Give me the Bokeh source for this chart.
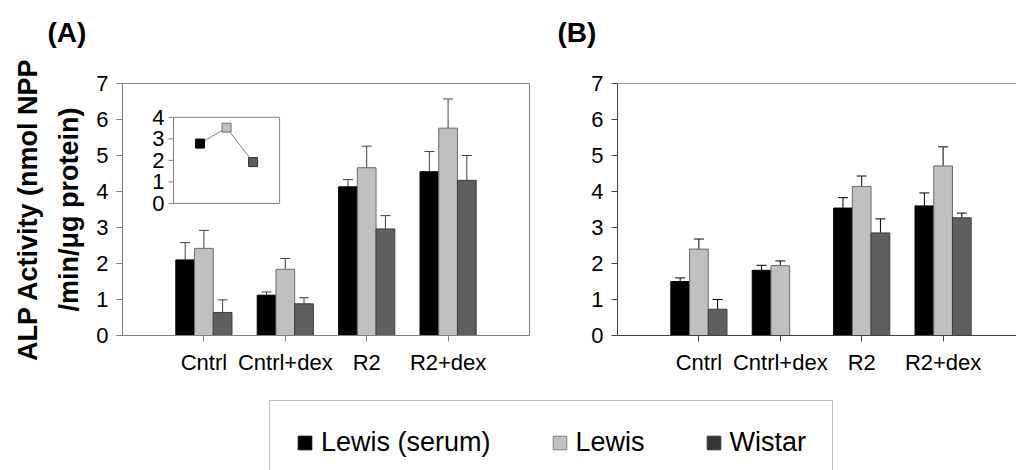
import numpy as np
from bokeh.plotting import figure
from bokeh.models import (Range1d, FixedTicker, Whisker, TeeHead, ColumnDataSource,
                          Title, Legend, LegendItem, Span)
from bokeh.transform import dodge
from bokeh.layouts import column, row
from bokeh.embed import file_html
from bokeh.resources import INLINE
from bokeh.core.properties import value

# ---------------- data ----------------
categories = ["Cntrl", "Cntrl+dex", "R2", "R2+dex"]
series = ["Lewis (serum)", "Lewis", "Wistar"]
panel_letters = ["(A)", "(B)"]

a_lewis_serum = [2.10, 1.12, 4.13, 4.55]
a_lewis = [2.42, 1.84, 4.66, 5.76]
a_wistar = [0.64, 0.88, 2.96, 4.31]
a_lewis_serum_err = [0.48, 0.09, 0.20, 0.56]
a_lewis_err = [0.50, 0.30, 0.60, 0.81]
a_wistar_err = [0.35, 0.17, 0.37, 0.69]

b_lewis_serum = [1.50, 1.81, 3.54, 3.60]
b_lewis = [2.40, 1.94, 4.14, 4.71]
b_wistar = [0.73, float("nan"), 2.85, 3.27]
b_lewis_serum_err = [0.10, 0.14, 0.29, 0.36]
b_lewis_err = [0.28, 0.13, 0.29, 0.53]
b_wistar_err = [0.27, float("nan"), 0.39, 0.13]

inset_values = [2.78, 3.52, 1.92]
y_ticks = [0, 1, 2, 3, 4, 5, 6, 7]
inset_ticks = [0, 1, 2, 3, 4]

# ---------------- style ----------------
FONT = "Liberation Sans"
bar_colors = ["#000000", "#c0c0c0", "#5f5f5f"]
bar_lines = ["#000000", "#6a6a6a", "#3c3c3c"]
legend_colors = ["#000000", "#c0c0c0", "#363636"]
legend_lines = ["#000000", "#808080", "#363636"]
offsets = [-0.23, 0.0, 0.23]
BAR_W = 0.23
UNIT_PX = 81.4
HEAD_H = 50          # strip holding the panel letters
TOP_H = 395          # bottom of the panel row (page px)
PANEL_H = TOP_H - HEAD_H


def make_panel(vals, errs, width, min_left, min_right, axis_color, err_color):
    frame_w = width - min_left - min_right
    x_end = frame_w / UNIT_PX
    p = figure(width=width, height=PANEL_H, x_range=Range1d(0, x_end), y_range=Range1d(0, 7),
               output_backend="svg", toolbar_location=None,
               min_border_left=min_left, min_border_right=min_right,
               min_border_top=83 - HEAD_H, min_border_bottom=60,
               background_fill_color="white", border_fill_color="white")
    p.grid.visible = False
    xs = list(range(1, len(categories) + 1))
    for i, name in enumerate(series):
        v = np.array(vals[i], dtype=float)
        e = np.array(errs[i], dtype=float)
        src = ColumnDataSource(dict(x=xs, y=v, yu=v + e))
        p.vbar(x=dodge("x", offsets[i]), top="y", width=BAR_W, bottom=0, source=src,
               fill_color=bar_colors[i], line_color=bar_lines[i], line_width=1)
        w = Whisker(source=src, base=dodge("x", offsets[i]), lower="y", upper="yu",
                    dimension="height", line_color=err_color, line_width=1,
                    lower_head=None,
                    upper_head=TeeHead(size=10, line_color=err_color, line_width=1))
        p.add_layout(w)
    for ax in (p.xaxis[0], p.yaxis[0]):
        ax.axis_line_color = axis_color
        ax.major_tick_line_color = axis_color
        ax.minor_tick_line_color = None
        ax.major_tick_in = 0
        ax.major_tick_out = 6
        ax.major_label_text_font = FONT
        ax.major_label_text_font_size = "22px"
        ax.major_label_text_color = "black"
    p.xaxis.ticker = FixedTicker(ticks=xs)
    p.xaxis.major_label_overrides = {x: c for x, c in zip(xs, categories)}
    p.xaxis.major_label_standoff = 8
    p.yaxis.ticker = FixedTicker(ticks=y_ticks)
    p.yaxis.major_label_standoff = 8
    return p


pa = make_panel([a_lewis_serum, a_lewis, a_wistar],
                [a_lewis_serum_err, a_lewis_err, a_wistar_err],
                549, 122, 20, "#808080", "#404040")
pa.outline_line_color = "#808080"

# y-axis label (two lines)
for txt, so in [("/min/\u03bcg protein)", 19), ("ALP Activity (nmol NPP", 0)]:
    pa.add_layout(Title(text=txt, align="center", text_font=FONT, text_font_size="27px",
                        text_font_style="bold", text_color="black", standoff=so), "left")

# inset in panel A, placed with its own ranges
inset_box_x = (0.627, 1.93)   # main-x extent of inset box
inset_box_y = (3.67, 6.06)    # main-y extent of inset box
inset_xlim = (0, 4)
inset_ylim = (0, 4)
sx = (inset_box_x[1] - inset_box_x[0]) / (inset_xlim[1] - inset_xlim[0])
sy = (inset_box_y[1] - inset_box_y[0]) / (inset_ylim[1] - inset_ylim[0])
xr = pa.x_range
pa.extra_x_ranges = {"ix": Range1d(inset_xlim[0] + (xr.start - inset_box_x[0]) / sx,
                                   inset_xlim[0] + (xr.end - inset_box_x[0]) / sx)}
pa.extra_y_ranges = {"iy": Range1d(inset_ylim[0] + (0 - inset_box_y[0]) / sy,
                                   inset_ylim[0] + (7 - inset_box_y[0]) / sy)}
pa.quad(left=[inset_xlim[0]], right=[inset_xlim[1]], bottom=[inset_ylim[0]],
        top=[inset_ylim[1]], x_range_name="ix", y_range_name="iy",
        fill_color="white", line_color="#808080", line_width=1)
pa.ray(x=[inset_xlim[0]] * len(inset_ticks), y=inset_ticks, length=5, angle=np.pi,
       length_units="screen", x_range_name="ix", y_range_name="iy",
       line_color="#808080", line_width=1)
pa.text(x=[inset_xlim[0]] * len(inset_ticks), y=inset_ticks,
        text=[str(t) for t in inset_ticks], x_offset=-9, text_align="right",
        text_baseline="middle", text_font=value(FONT), text_font_size="22px",
        text_color="black", x_range_name="ix", y_range_name="iy")
ix = [1, 2, 3]
pa.line(x=ix, y=inset_values, line_color="#808080", line_width=1,
        x_range_name="ix", y_range_name="iy")
pa.scatter(x=ix, y=inset_values, marker="square", size=9, fill_color=bar_colors,
           line_color=["#000000", "#707070", "#303030"], line_width=1,
           x_range_name="ix", y_range_name="iy")

pb = make_panel([b_lewis_serum, b_lewis, b_wistar],
                [b_lewis_serum_err, b_lewis_err, b_wistar_err],
                467, 68, 0, "#404040", "#000000")
pb.outline_line_color = None
pb.add_layout(Span(location=7, dimension="width", line_color="#404040", line_width=1))

# strip with the panel letters (pixel-like coordinates, y downward)
ph = figure(width=1016, height=HEAD_H, x_range=Range1d(0, 1016), y_range=Range1d(HEAD_H, 0),
            output_backend="svg", toolbar_location=None, x_axis_location=None,
            y_axis_location=None, min_border_left=0, min_border_right=0,
            min_border_top=0, min_border_bottom=0, outline_line_color=None,
            background_fill_color="white", border_fill_color="white")
ph.grid.visible = False
ph.text(x=[47, 557], y=[32, 32], text=panel_letters, text_font=value(FONT),
        text_font_size="28px", text_font_style="bold", text_color="black",
        text_baseline="middle", text_align="left")

# legend figure
LEG_MARGIN = 5
pl = figure(width=1016, height=470 - TOP_H, x_range=Range1d(0, 1), y_range=Range1d(0, 1),
            output_backend="svg", toolbar_location=None, x_axis_location=None,
            y_axis_location=None, min_border_left=269 - LEG_MARGIN, min_border_right=0,
            min_border_top=0, min_border_bottom=0, outline_line_color=None,
            background_fill_color="white", border_fill_color="white")
pl.grid.visible = False
items = []
nan = float("nan")
for i, name in enumerate(series):
    r = pl.vbar(x=[nan], top=[nan], width=0.1, fill_color=legend_colors[i],
                line_color=legend_lines[i], line_width=1)
    items.append(LegendItem(label=name, renderers=[r]))
leg = Legend(items=items, orientation="horizontal", location="top_left", margin=LEG_MARGIN,
             label_text_font=FONT, label_text_font_size="27px", label_text_color="black",
             glyph_width=17, glyph_height=17, label_standoff=8, spacing=60, padding=26,
             border_line_color="#808080", border_line_width=1,
             background_fill_color="white", background_fill_alpha=1)
pl.add_layout(leg, "center")

layout = column(row(ph), row(pa, pb), row(pl))
open("out.html", "w").write(file_html(layout, INLINE))
